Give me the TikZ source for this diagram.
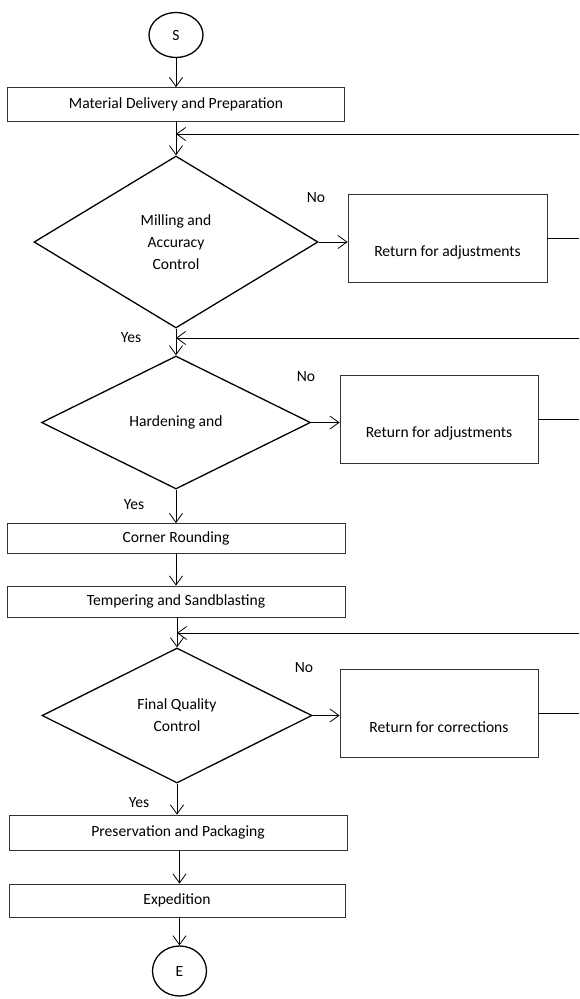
\documentclass[tikz,border=0pt]{standalone}
\usepackage{fontspec}
\setmainfont{Carlito}
\usetikzlibrary{arrows.meta,shapes.geometric}
\begin{document}
\begin{tikzpicture}[x=1pt,y=-1pt,
  font=\fontsize{15.6}{22}\selectfont,
  proc/.style={draw=black!80, line width=0.8pt, inner sep=0pt, align=center},
  dec/.style={diamond, draw=black, line width=1.3pt, inner sep=0pt, align=center},
  term/.style={ellipse, draw=black, line width=1.3pt, inner sep=0pt},
  conn/.style={line width=0.8pt, -{Straight Barb[length=9pt,width=13pt]}},
  plain/.style={line width=0.8pt},
  lbl/.style={inner sep=0pt}]
\useasboundingbox (0,0) rectangle (579,999);

% main column
\node[term, minimum width=54pt, minimum height=45pt] (S) at (176,35) {S};
\node[proc, minimum width=337pt, minimum height=34pt] (b1) at (176,104.5) {Material Delivery and Preparation};
\node[dec, minimum width=284pt, minimum height=172pt] (d1) at (176,242) {Milling and\\Accuracy\\Control};
\node[dec, minimum width=269pt, minimum height=133pt] (d2) at (176,422.5) {Hardening and};
\node[proc, minimum width=338pt, minimum height=30pt] (b2) at (176,538.5) {Corner Rounding};
\node[proc, minimum width=338pt, minimum height=31pt] (b3) at (176,601.5) {Tempering and Sandblasting};
\node[dec, minimum width=270pt, minimum height=135pt] (d3) at (177,715.5) {Final Quality\\Control};
\node[proc, minimum width=338pt, minimum height=35pt] (b4) at (178,832.5) {Preservation and Packaging};
\node[proc, minimum width=336pt, minimum height=33pt] (b5) at (177,900.5) {Expedition};
\node[term, minimum width=54pt, minimum height=50pt] (E) at (179.5,971) {E};

% return boxes
\node[proc, minimum width=199pt, minimum height=88pt] (r1) at (447.5,238) {};
\path (r1.center) ++(0,14) node[lbl] (t1) {Return for adjustments};
\node[proc, minimum width=198pt, minimum height=88pt] (r2) at (439,419) {};
\path (r2.center) ++(0,14) node[lbl] (t2) {Return for adjustments};
\node[proc, minimum width=198pt, minimum height=88pt] (r3) at (439,713) {};
\path (r3.center) ++(0,14) node[lbl] (t3) {Return for corrections};

% labels
\node[lbl] (no1) at (316,198) {No};
\node[lbl] (no2) at (306,377) {No};
\node[lbl] (no3) at (304,668) {No};
\node[lbl] (yes1) at (131,338) {Yes};
\node[lbl] (yes2) at (134,505) {Yes};
\node[lbl] (yes3) at (139,803) {Yes};

% loop-back coordinates
\coordinate (L1) at (579,134);  \coordinate (J1) at (176,134);
\coordinate (L2) at (579,338);  \coordinate (J2) at (176,338);
\coordinate (L3) at (579,633);  \coordinate (J3) at (177,633);

% main flow
\draw[conn] (S.south) -- (b1.north);
\draw[conn] (b1.south) -- (d1.north);
\draw[conn] (d1.south) -- (d2.north);
\draw[conn] (d2.south) -- (b2.north);
\draw[conn] (b2.south) -- (b3.north);
\draw[conn] (d3.north |- b3.south) -- (d3.north);
\draw[conn] (d3.south) -- (d3.south |- b4.north);
\draw[conn] (b4.south -| E.north) -- (b5.north -| E.north);
\draw[conn] (b5.south -| E.north) -- (E.north);

% no branches
\draw[conn] (d1.east) -- (d1.east -| r1.west);
\draw[conn] (d2.east) -- (d2.east -| r2.west);
\draw[conn] (d3.east) -- (d3.east -| r3.west);
\draw[plain] (r1.east) -- (r1.east -| L1);
\draw[plain] (r2.east) -- (r2.east -| L2);
\draw[plain] (r3.east) -- (r3.east -| L3);

% loop-backs
\draw[conn] (L1) -- (J1);
\draw[conn] (L2) -- (J2);
\draw[conn] (L3) -- (J3);
\end{tikzpicture}
\end{document}
